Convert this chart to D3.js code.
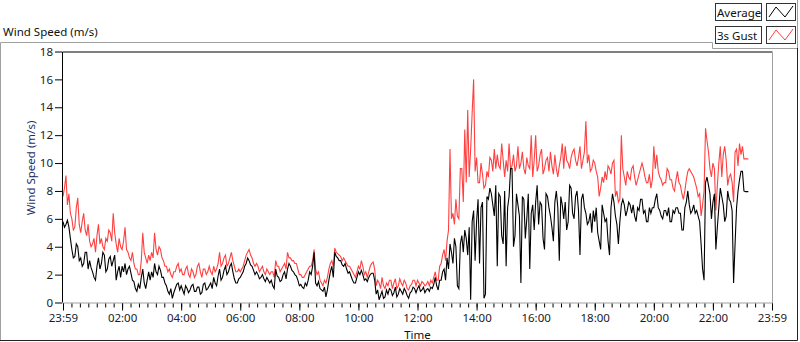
<!DOCTYPE html>
<html>
<head>
<meta charset="utf-8">
<script src="https://cdn.jsdelivr.net/npm/d3@7"></script>
<style>
  body { margin: 0; background: #fff; }
  text { font-family: "Noto Sans", "Open Sans", sans-serif; }
</style>
</head>
<body>
<script>
// Samples every 3 minutes starting at 23:59 (hour 0 on the axis)
const samplesPerHour = 20;

const avgValues = [
  5.8, 5.4, 5.6, 5.9, 5.4, 4.6, 3.8, 3.2, 3.3, 4.2, 4.0, 3.0, 3.2, 2.6, 2.8, 3.6, 3.6, 2.4, 3.0, 2.5,
  2.2, 1.8, 1.6, 2.6, 3.2, 2.4, 2.8, 3.6, 3.4, 2.2, 2.4, 3.1, 3.3, 2.6, 3.0, 3.4, 1.6, 2.2, 2.6, 1.8,
  2.6, 2.2, 2.8, 2.0, 2.4, 2.6, 2.1, 1.6, 1.5, 1.0, 0.8, 1.3, 1.0, 1.8, 2.4, 1.4, 1.0, 1.6, 2.2, 1.6,
  2.2, 1.8, 2.8, 2.2, 2.0, 2.6, 2.3, 1.8, 1.8, 1.4, 1.2, 0.8, 0.6, 1.0, 0.3, 0.7, 1.0, 1.3, 1.4, 0.9,
  1.2, 0.9, 0.6, 1.2, 1.0, 0.7, 0.9, 1.2, 1.3, 0.8, 0.8, 1.1, 1.1, 0.6, 0.7, 1.3, 1.4, 0.9, 1.0, 1.2,
  1.4, 1.0, 1.8, 1.4, 1.2, 1.9, 2.4, 1.6, 1.8, 2.3, 2.6, 2.0, 2.2, 2.6, 2.8, 2.2, 1.7, 1.4, 1.4, 1.7,
  1.8, 2.0, 2.2, 2.6, 2.8, 3.2, 3.0, 2.7, 2.6, 2.3, 2.0, 2.2, 2.0, 1.7, 1.8, 2.0, 1.7, 1.5, 1.8, 1.6,
  1.4, 1.6, 1.2, 1.0, 2.4, 1.9, 1.8, 1.5, 1.6, 2.0, 2.2, 1.7, 2.4, 2.8, 2.6, 2.3, 2.2, 2.0, 1.9, 1.6,
  1.2, 1.3, 1.1, 1.0, 1.4, 1.2, 1.6, 2.2, 2.0, 2.6, 3.6, 1.4, 1.2, 1.5, 1.0, 0.9, 0.8, 1.1, 0.4, 0.9,
  1.6, 2.2, 2.6, 1.8, 3.6, 3.3, 3.2, 3.0, 3.0, 2.7, 2.6, 2.8, 2.4, 2.1, 2.2, 1.9, 1.6, 1.4, 1.4, 1.8,
  2.2, 2.0, 2.3, 2.0, 1.6, 1.7, 1.5, 1.8, 2.0, 2.1, 2.1, 1.6, 0.6, 0.9, 0.2, 0.5, 0.8, 0.3, 0.4, 0.9,
  0.6, 1.0, 0.9, 0.5, 0.7, 1.1, 0.4, 0.6, 1.0, 0.8, 0.6, 1.0, 0.8, 0.5, 0.3, 0.7, 0.8, 1.1, 1.0, 0.7,
  1.0, 1.2, 0.8, 0.9, 1.1, 0.7, 0.9, 1.0, 0.8, 1.1, 1.0, 1.3, 1.8, 1.2, 0.9, 1.6, 1.6, 2.2, 2.4, 1.6,
  3.2, 2.4, 4.2, 3.6, 2.8, 4.6, 4.0, 1.2, 1.0, 4.2, 4.8, 3.6, 5.2, 4.6, 3.4, 5.4, 0.2, 5.8, 6.6, 3.0,
  5.8, 7.4, 2.8, 6.8, 7.2, 0.3, 0.6, 7.6, 7.4, 8.2, 7.8, 7.0, 6.2, 8.4, 2.6, 7.8, 7.6, 4.8, 4.2, 8.0,
  2.6, 6.8, 7.6, 9.6, 9.6, 4.0, 4.8, 7.8, 7.0, 6.2, 1.4, 7.6, 7.4, 4.6, 6.0, 7.8, 2.4, 6.4, 7.0, 5.2,
  7.2, 8.4, 5.6, 7.2, 7.0, 4.6, 3.8, 7.8, 7.6, 6.8, 6.2, 5.4, 4.4, 7.2, 8.0, 6.8, 3.0, 7.6, 7.0, 6.0,
  7.2, 5.2, 5.8, 8.4, 8.2, 6.4, 6.0, 7.6, 8.0, 6.6, 3.4, 7.4, 7.8, 6.8, 6.4, 5.6, 5.8, 6.4, 5.0, 6.6,
  5.8, 6.8, 5.0, 4.4, 3.8, 7.0, 6.4, 5.8, 6.0, 4.4, 3.4, 6.8, 7.8, 7.2, 6.2, 5.6, 4.2, 5.8, 7.0, 7.4,
  7.0, 6.2, 6.6, 7.2, 7.0, 6.4, 7.0, 6.2, 5.8, 6.8, 6.6, 7.4, 7.4, 6.4, 6.6, 5.8, 5.8, 6.8, 6.4, 6.8,
  6.8, 7.4, 7.8, 6.8, 6.6, 6.2, 6.0, 6.6, 6.6, 6.2, 6.8, 5.8, 5.8, 6.6, 6.4, 6.8, 6.8, 6.4, 6.4, 5.2,
  5.2, 6.8, 7.2, 8.0, 7.0, 6.4, 6.6, 7.0, 6.4, 6.6, 6.2, 5.8, 4.2, 2.4, 1.6, 8.6, 9.0, 8.4, 7.8, 6.0,
  7.2, 7.8, 3.8, 5.4, 6.8, 8.2, 7.6, 7.0, 5.8, 6.2, 8.0, 7.4, 7.2, 6.6, 1.4, 4.2, 6.8, 8.0, 8.8, 9.4,
  9.4, 8.0, 7.95, 7.95, 7.95
];

const gustValues = [
  7.6, 8.2, 9.1, 7.0, 7.8, 6.4, 6.0, 5.2, 5.4, 6.8, 7.5, 5.6, 5.0, 5.8, 6.4, 5.2, 4.8, 5.6, 4.4, 4.0,
  4.2, 4.6, 3.6, 4.8, 5.6, 4.2, 4.6, 4.0, 3.8, 4.6, 4.4, 5.2, 5.0, 4.4, 6.4, 5.0, 4.2, 3.6, 4.6, 4.0,
  3.8, 4.4, 5.4, 3.8, 3.6, 3.2, 3.0, 3.6, 2.8, 2.4, 2.4, 2.0, 2.0, 3.0, 5.0, 3.6, 3.2, 2.8, 3.4, 3.0,
  3.6, 3.2, 5.0, 3.8, 3.4, 4.0, 3.8, 3.2, 3.0, 2.6, 2.6, 2.2, 2.4, 2.0, 1.8, 2.2, 2.2, 2.6, 2.8, 2.2,
  2.4, 2.0, 2.0, 2.4, 2.6, 2.0, 1.8, 2.4, 2.2, 1.8, 2.0, 2.6, 2.8, 2.2, 1.8, 2.4, 2.4, 2.0, 2.2, 2.6,
  2.2, 2.0, 2.6, 2.2, 2.4, 2.8, 3.6, 2.6, 2.8, 3.2, 3.4, 2.6, 2.8, 3.2, 3.6, 3.0, 2.6, 2.2, 2.2, 2.4,
  2.2, 2.4, 2.6, 3.0, 3.4, 3.6, 3.8, 3.4, 3.2, 2.8, 2.6, 2.8, 2.6, 2.2, 2.4, 2.6, 2.2, 2.0, 2.4, 2.2,
  2.0, 2.2, 2.2, 1.8, 3.0, 2.6, 2.6, 2.2, 2.4, 2.6, 2.8, 2.4, 3.6, 3.2, 3.2, 3.0, 3.0, 2.8, 2.8, 2.4,
  2.0, 2.0, 1.8, 1.8, 2.0, 2.2, 2.4, 2.6, 2.6, 3.0, 3.8, 2.4, 2.0, 2.2, 1.6, 1.4, 1.2, 1.6, 1.4, 1.8,
  2.4, 2.8, 3.0, 2.6, 3.9, 3.6, 3.5, 3.4, 3.3, 3.0, 3.2, 3.0, 2.8, 2.6, 2.6, 2.4, 2.2, 2.0, 1.8, 2.2,
  2.6, 2.4, 3.0, 2.6, 2.0, 2.2, 1.8, 2.2, 2.6, 2.8, 2.9, 2.4, 1.2, 1.6, 1.4, 1.0, 1.8, 1.2, 1.0, 1.4,
  1.2, 1.6, 1.6, 1.0, 1.4, 1.7, 1.0, 1.2, 1.7, 1.4, 1.2, 1.6, 1.4, 1.0, 0.9, 1.2, 1.3, 1.6, 1.6, 1.2,
  1.6, 1.4, 1.2, 1.5, 1.4, 1.2, 1.3, 1.5, 1.2, 1.6, 1.4, 1.8, 2.2, 1.6, 1.6, 2.6, 2.8, 3.4, 3.8, 3.0,
  4.4, 5.2, 11.0, 6.0, 6.4, 5.6, 7.4, 6.2, 6.0, 9.6, 9.6, 7.2, 12.4, 8.6, 13.8, 9.0, 11.0, 13.6, 16.0, 9.4,
  10.4, 8.6, 8.6, 10.0, 9.2, 8.2, 8.4, 9.4, 9.0, 10.4, 10.2, 9.4, 11.0, 9.6, 10.6, 9.8, 9.6, 11.4, 10.2, 9.0,
  10.2, 9.4, 11.4, 9.6, 9.8, 10.6, 9.4, 9.8, 11.2, 9.6, 10.0, 10.8, 9.6, 9.2, 10.4, 9.8, 9.6, 12.0, 9.0, 10.2,
  12.0, 9.4, 9.8, 10.6, 11.0, 9.2, 9.6, 10.2, 10.4, 9.4, 10.8, 9.8, 9.2, 10.6, 9.6, 9.0, 9.8, 10.4, 11.4, 9.6,
  11.2, 10.2, 10.0, 9.6, 10.4, 10.8, 11.0, 10.2, 9.8, 10.4, 11.2, 9.6, 10.2, 10.8, 13.0, 10.0, 10.6, 9.4, 9.6, 10.2,
  10.0, 9.4, 9.0, 7.6, 8.2, 9.0, 8.6, 9.4, 8.8, 9.8, 9.6, 9.2, 10.0, 10.2, 7.6, 8.0, 7.2, 7.4, 12.0, 9.6,
  9.0, 8.4, 9.4, 9.0, 8.8, 9.6, 9.8, 9.0, 8.4, 8.8, 9.2, 9.6, 10.0, 9.6, 9.0, 8.6, 8.6, 9.2, 8.2, 8.8,
  11.2, 9.6, 10.6, 9.4, 9.0, 8.8, 8.4, 8.6, 8.6, 9.6, 9.4, 8.8, 8.8, 8.2, 8.0, 8.8, 9.4, 8.6, 8.4, 7.8,
  7.4, 8.0, 8.8, 9.4, 9.6, 9.4, 9.2, 9.0, 8.6, 8.2, 7.6, 7.8, 6.2, 7.0, 8.0, 12.5, 11.6, 10.8, 9.6, 9.0,
  10.0, 9.6, 6.6, 8.4, 10.0, 11.2, 9.0, 10.6, 11.2, 10.2, 8.4, 9.0, 9.2, 8.6, 7.2, 10.8, 11.0, 9.8, 11.4, 10.6,
  11.2, 10.3, 10.3, 10.3, 10.3
];

const yTicks = [0, 2, 4, 6, 8, 10, 12, 14, 16, 18];
const xTicks = [0, 2, 4, 6, 8, 10, 12, 14, 16, 18, 20, 22, 24];
const xTickLabels = ["23:59", "02:00", "04:00", "06:00", "08:00", "10:00", "12:00",
                     "14:00", "16:00", "18:00", "20:00", "22:00", "23:59"];
const seriesNames = ["Average", "3s Gust"];
const seriesColors = ["#000000", "#ff4040"];

let width = 800, height = 342;
let plot = { left: 63, right: 772, top: 51.5, bottom: 302.5 };
let fontSize = 11.5;

let svg = d3.select('body')
    .append('svg')
    .attr('width', width)
    .attr('height', height);

// Scales
let xScale = d3.scaleLinear()
    .domain([0, 24])
    .range([plot.left, plot.right]);

let yScale = d3.scaleLinear()
    .domain([0, 18])
    .range([plot.bottom, plot.top]);

// Outer panel frame
svg.append('path')
    .attr('d', 'M0.5,340 L0.5,42.5 L712.5,42.5 L712.5,48.5 L797.5,48.5')
    .attr('fill', 'none')
    .attr('stroke', '#a0a0a0');
svg.append('path')
    .attr('d', 'M797.5,0 L797.5,48')
    .attr('fill', 'none')
    .attr('stroke', '#a0a0a0');
svg.append('path')
    .attr('d', 'M0,340.5 L797.5,340.5 L797.5,48')
    .attr('fill', 'none')
    .attr('stroke', '#222');

// Chart title
svg.append('text')
    .attr('x', 3)
    .attr('y', 36)
    .attr('font-size', fontSize)
    .attr('fill', '#111')
    .text('Wind Speed (m/s)');

// Lines
let line = d3.line()
    .x((d, i) => xScale(i / samplesPerHour))
    .y(d => yScale(d));

svg.append('clipPath').attr('id', 'plotclip')
    .append('rect')
    .attr('x', plot.left - 1)
    .attr('y', plot.top)
    .attr('width', plot.right - plot.left + 1)
    .attr('height', plot.bottom - plot.top + 1);

let lines = svg.append('g').attr('clip-path', 'url(#plotclip)');

lines.append('path')
    .datum(gustValues)
    .attr('d', line)
    .attr('fill', 'none')
    .attr('stroke', seriesColors[1])
    .attr('stroke-width', 1.1);

lines.append('path')
    .datum(avgValues)
    .attr('d', line)
    .attr('fill', 'none')
    .attr('stroke', seriesColors[0])
    .attr('stroke-width', 1.1);

// Plot border: dark top/left, grey bottom/right
svg.append('path')
    .attr('d', `M${plot.left - 0.5},${plot.bottom} L${plot.left - 0.5},${plot.top + 0.5} L${plot.right + 0.5},${plot.top + 0.5}`)
    .attr('fill', 'none')
    .attr('stroke', '#000');
svg.append('path')
    .attr('d', `M${plot.right + 0.5},${plot.top + 1} L${plot.right + 0.5},${plot.bottom + 0.5} L${plot.left - 1},${plot.bottom + 0.5}`)
    .attr('fill', 'none')
    .attr('stroke', '#a0a0a0');

// Y axis
let yAxis = svg.append('g')
    .attr('transform', `translate(${plot.left - 1}, 0)`)
    .call(d3.axisLeft(yScale).tickValues(yTicks).tickSize(7).tickPadding(2));
yAxis.select('.domain').remove();
yAxis.selectAll('text').attr('font-size', fontSize).attr('fill', '#1a1a2a')
    .attr('font-family', '"Noto Sans", sans-serif');

svg.append('text')
    .attr('transform', `translate(35, 168) rotate(-90)`)
    .attr('text-anchor', 'middle')
    .attr('font-size', fontSize)
    .attr('fill', '#1e2f66')
    .text('Wind Speed (m/s)');

// X axis (major + minor ticks)
let minorTicks = d3.range(0, 24 * 7 / 2 + 1).map(k => k * 2 / 7);
let xMinor = svg.append('g')
    .attr('transform', `translate(0, ${plot.bottom + 1})`)
    .call(d3.axisBottom(xScale).tickValues(minorTicks).tickSize(4).tickFormat(''));
xMinor.select('.domain').remove();

let xAxis = svg.append('g')
    .attr('transform', `translate(0, ${plot.bottom + 1})`)
    .call(d3.axisBottom(xScale).tickValues(xTicks).tickSize(7).tickPadding(3)
        .tickFormat((d, i) => xTickLabels[i]));
xAxis.select('.domain').remove();
xAxis.selectAll('text').attr('font-size', fontSize).attr('fill', '#1a1a2a')
    .attr('font-family', '"Noto Sans", sans-serif');

svg.append('text')
    .attr('x', (plot.left + plot.right) / 2)
    .attr('y', 339)
    .attr('text-anchor', 'middle')
    .attr('font-size', fontSize)
    .attr('fill', '#111')
    .text('Time');

// Legend
let legend = svg.append('g');
seriesNames.forEach((name, i) => {
    let y0 = 3.5 + i * 23;
    legend.append('rect')
        .attr('x', 715.5).attr('y', y0)
        .attr('width', 46).attr('height', 17)
        .attr('fill', '#fff').attr('stroke', '#333');
    legend.append('text')
        .attr('x', 717).attr('y', y0 + 13)
        .attr('font-size', fontSize)
        .attr('fill', '#111')
        .text(name);
    legend.append('rect')
        .attr('x', 766.5).attr('y', y0)
        .attr('width', 29).attr('height', 17)
        .attr('fill', '#fff').attr('stroke', '#333');
    legend.append('path')
        .attr('d', `M769,${y0 + 13.5} L776,${y0 + 3.5} L785,${y0 + 13.5} L793,${y0 + 2.5}`)
        .attr('fill', 'none')
        .attr('stroke', seriesColors[i]);
});
</script>
</body>
</html>
